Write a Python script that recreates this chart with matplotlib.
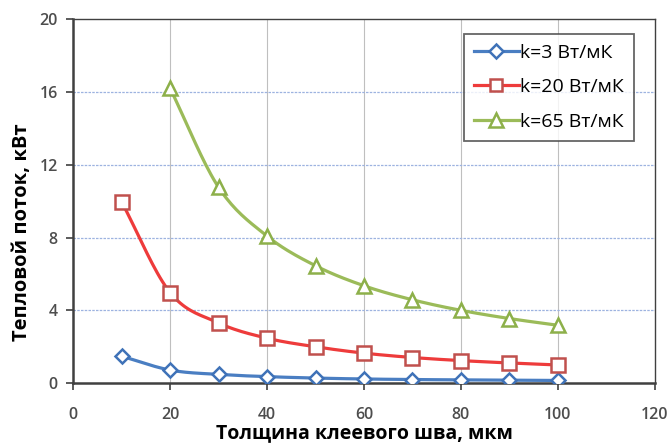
import numpy as np
import matplotlib
matplotlib.use('Agg')
import matplotlib.pyplot as plt

plt.rcParams['font.family'] = ['Open Sans', 'DejaVu Sans']

# толщина шва, мкм
x3 = [10, 20, 30, 40, 50, 60, 70, 80, 90, 100]
q3 = [1.48, 0.72, 0.48, 0.36, 0.28, 0.23, 0.2, 0.18, 0.16, 0.15]

x20 = [10, 20, 30, 40, 50, 60, 70, 80, 90, 100]
q20 = [9.96, 4.98, 3.31, 2.47, 2.0, 1.65, 1.41, 1.24, 1.11, 1.0]

x65 = [20, 30, 40, 50, 60, 70, 80, 90, 100]
q65 = [16.2, 10.76, 8.08, 6.45, 5.35, 4.58, 4.0, 3.55, 3.18]

labels = ['k=3 Вт/мК', 'k=20 Вт/мК', 'k=65 Вт/мК']


def smooth(x, y, n=20):
    # Catmull-Rom, как сглаженная линия в Excel
    x = np.asarray(x, float)
    y = np.asarray(y, float)
    px = np.concatenate([[2*x[0]-x[1]], x, [2*x[-1]-x[-2]]])
    py = np.concatenate([[2*y[0]-y[1]], y, [2*y[-1]-y[-2]]])
    ox, oy = [], []
    t = np.linspace(0, 1, n)
    for i in range(1, len(px)-2):
        for p, o in ((px, ox), (py, oy)):
            p0, p1, p2, p3 = p[i-1], p[i], p[i+1], p[i+2]
            o.extend(0.5*((2*p1) + (-p0+p2)*t + (2*p0-5*p1+4*p2-p3)*t**2
                          + (-p0+3*p1-3*p2+p3)*t**3))
    return ox, oy


fig = plt.figure(figsize=(6.71, 4.44), dpi=100)
ax = fig.add_axes([0.109, 0.137, 0.867, 0.82])

series = [
    (x3, q3, '#4A7EC2', '#3F72B8', 'D', 7.5),
    (x20, q20, '#EE3B3B', '#C0504D', 's', 10),
    (x65, q65, '#9BBB59', '#8DB04A', '^', 10.5),
]
for (xs, ys, lc, mc, mk, ms), lab in zip(series, labels):
    sx, sy = smooth(xs, ys)
    ax.plot(sx, sy, color=lc, lw=2.3, zorder=3)
    ax.plot(xs, ys, ls='none', marker=mk, ms=ms, mfc='white', mec=mc, mew=1.8, zorder=4)
    ax.plot([], [], color=lc, lw=2.3, marker=mk, ms=ms*0.9, mfc='white', mec=mc, mew=1.8, label=lab)

ax.set_xlim(0, 120)
ax.set_ylim(0, 20)
ax.set_xticks(range(0, 121, 20))
ax.set_yticks(range(0, 21, 4))

for v in range(20, 101, 20):
    ax.axvline(v, color='#BFBFBF', lw=0.8, zorder=1)
for v in range(4, 17, 4):
    ax.axhline(v, color='#9DB3E0', lw=0.9, ls=(0, (2, 1)), zorder=1)

for s in ax.spines.values():
    s.set_color('#404040')
    s.set_linewidth(1.0)
ax.spines['left'].set_linewidth(1.8)
ax.spines['bottom'].set_linewidth(1.8)

ax.tick_params(direction='out', length=5, width=1.2, colors='#404040',
               labelsize=11.5, labelcolor='#4d4d4d', pad=6)
ax.tick_params(axis='x', pad=12)
for lbl in ax.get_xticklabels() + ax.get_yticklabels():
    lbl.set_fontweight('semibold')

ax.set_xlabel('Толщина клеевого шва, мкм', fontsize=14, fontweight='bold', labelpad=0)
ax.set_ylabel('Тепловой поток, кВт', fontsize=14.5, fontweight='bold')
ax.yaxis.set_label_coords(-0.07, 0.415)

leg = ax.legend(loc='upper right', bbox_to_anchor=(0.964, 0.959), fontsize=14,
                frameon=True, fancybox=False, edgecolor='#404040', handlelength=2.3,
                handletextpad=0.1, borderpad=0.5, labelspacing=0.85, borderaxespad=0)
leg.get_frame().set_linewidth(1.3)

plt.savefig('out.png', dpi=100)
